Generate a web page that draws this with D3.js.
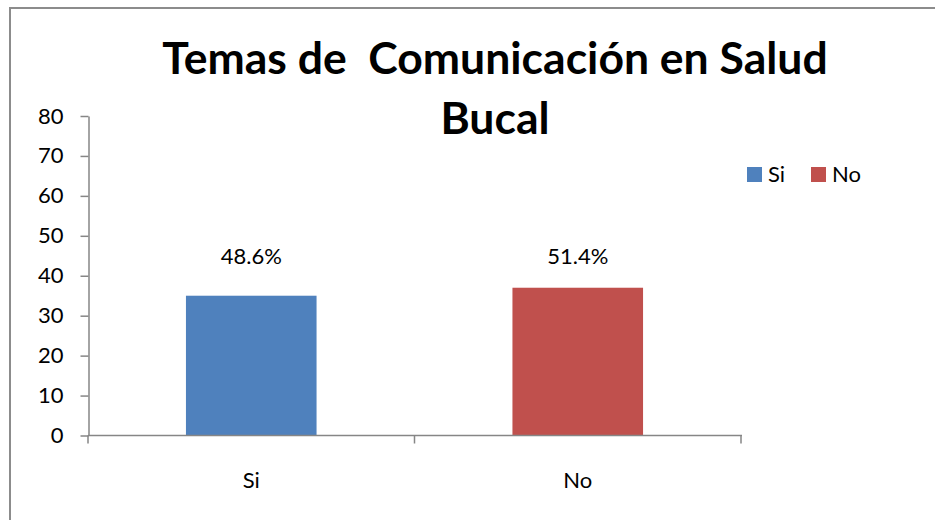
<!DOCTYPE html>
<html>
<head>
<meta charset="utf-8">
<script src="https://cdn.jsdelivr.net/npm/d3@7"></script>
<style>
  body { margin: 0; background: #fff; }
  svg { display: block; font-family: Lato, "Open Sans", sans-serif; }
</style>
</head>
<body>
<svg id="chart" width="935" height="520"></svg>
<script>
var categories = ["Si", "No"];
var values = [35, 37];
var labels = ["48.6%", "51.4%"];
var colors = ["#4f81bd", "#c0504d"];
var yTicks = [0, 10, 20, 30, 40, 50, 60, 70, 80];
var titleLines = ["Temas de\u00a0 Comunicación en Salud", "Bucal"];

var svg = d3.select("#chart");
var axisColor = "#868686";

// chart border
svg.append("path")
    .attr("d", "M10,520 V8 H935")
    .attr("fill", "none")
    .attr("stroke", "#8c8c8c")
    .attr("stroke-width", 2);

var x = d3.scaleBand()
    .domain(categories)
    .range([88, 741])
    .paddingInner(0.6)
    .paddingOuter(0.3);

var y = d3.scaleLinear()
    .domain([0, 80])
    .range([435.5, 116]);

// y axis
var yAxis = svg.append("g")
    .attr("transform", "translate(88.5,0)")
    .call(d3.axisLeft(y).tickValues(yTicks).tickSize(8).tickPadding(17).tickSizeOuter(0));
yAxis.select(".domain").attr("stroke", axisColor).attr("stroke-width", 1.5);
yAxis.selectAll(".tick line").attr("stroke", axisColor).attr("stroke-width", 1.5);
yAxis.selectAll(".tick text")
    .attr("font-family", "Lato, sans-serif")
    .attr("font-size", 22)
    .attr("fill", "#000");

// bars
svg.selectAll("rect.bar")
    .data(categories)
    .enter().append("rect")
    .attr("class", "bar")
    .attr("x", function(d){ return x(d); })
    .attr("width", x.bandwidth())
    .attr("y", function(d, i){ return y(values[i]); })
    .attr("height", function(d, i){ return y(0) - y(values[i]); })
    .attr("fill", function(d, i){ return colors[i]; });

// x axis
var x0 = x.range()[0], x1 = x.range()[1];
svg.append("line")
    .attr("x1", x0).attr("x2", x1 + 1)
    .attr("y1", y(0)).attr("y2", y(0))
    .attr("stroke", axisColor).attr("stroke-width", 1.5);
var bounds = d3.range(categories.length + 1).map(function(i){ return x0 + i * (x1 - x0) / categories.length; });
svg.selectAll("line.xtick")
    .data(bounds)
    .enter().append("line")
    .attr("class", "xtick")
    .attr("x1", function(d){ return d; }).attr("x2", function(d){ return d; })
    .attr("y1", y(0)).attr("y2", y(0) + 8)
    .attr("stroke", axisColor).attr("stroke-width", 1.5);

svg.selectAll("text.xlab")
    .data(categories)
    .enter().append("text")
    .attr("class", "xlab")
    .attr("x", function(d){ return x(d) + x.bandwidth() / 2; })
    .attr("y", 488)
    .attr("text-anchor", "middle")
    .attr("font-size", 22)
    .text(function(d){ return d; });

// data labels
svg.selectAll("text.dlab")
    .data(labels)
    .enter().append("text")
    .attr("class", "dlab")
    .attr("x", function(d, i){ return x(categories[i]) + x.bandwidth() / 2; })
    .attr("y", y(43))
    .attr("text-anchor", "middle")
    .attr("font-size", 22)
    .text(function(d){ return d; });

// title
svg.selectAll("text.title")
    .data(titleLines)
    .enter().append("text")
    .attr("class", "title")
    .attr("x", 495)
    .attr("y", function(d, i){ return 74 + i * 60; })
    .attr("text-anchor", "middle")
    .attr("font-size", 44.5)
    .attr("font-weight", "bold")
    .text(function(d){ return d; });

// legend
var legend = svg.selectAll("g.leg")
    .data(categories)
    .enter().append("g")
    .attr("class", "leg")
    .attr("transform", function(d, i){ return "translate(" + (747 + i * 64) + ",167)"; });
legend.append("rect")
    .attr("width", 15).attr("height", 15)
    .attr("fill", function(d, i){ return colors[i]; });
legend.append("text")
    .attr("x", 21).attr("y", 15)
    .attr("font-size", 22)
    .text(function(d){ return d; });
</script>
</body>
</html>
